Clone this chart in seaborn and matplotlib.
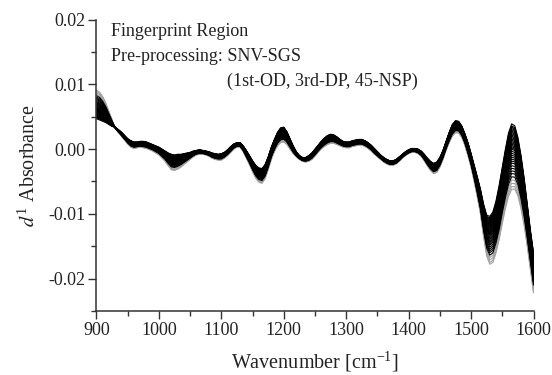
import numpy as np
import pandas as pd
import matplotlib
matplotlib.use("Agg")
import matplotlib.pyplot as plt
import seaborn as sns
from matplotlib.ticker import MultipleLocator

# ---- data ----
wavenumber = list(range(900, 1601, 5))

# edge of the band where most spectra lie (d1 absorbance)
main_edge = [
    0.0047, 0.0045, 0.0043, 0.0041, 0.0038, 0.0035, 0.0034, 0.0030, 0.0026, 0.0021,
    0.0016, 0.0013, 0.0011, 0.0011, 0.0012, 0.0012, 0.0011, 0.0009, 0.0007, 0.0005,
    0.0003, 0.0000, -0.0003, -0.0006, -0.0008, -0.0009, -0.0008, -0.0008, -0.0007, -0.0006,
    -0.0005, -0.0003, -0.0002, -0.0001, -0.0002, -0.0003, -0.0004, -0.0006, -0.0007, -0.0008,
    -0.0007, -0.0005, -0.0001, 0.0004, 0.0008, 0.0010, 0.0010, 0.0005, -0.0002, -0.0010,
    -0.0018, -0.0025, -0.0029, -0.0030, -0.0024, -0.0012, 0.0003, 0.0015, 0.0026, 0.0033,
    0.0034, 0.0027, 0.0016, 0.0005, -0.0004, -0.0010, -0.0013, -0.0013, -0.0010, -0.0006,
    0.0000, 0.0006, 0.0012, 0.0017, 0.0021, 0.0023, 0.0022, 0.0019, 0.0015, 0.0012,
    0.0011, 0.0011, 0.0013, 0.0014, 0.0015, 0.0015, 0.0013, 0.0010, 0.0006, 0.0001,
    -0.0004, -0.0009, -0.0013, -0.0016, -0.0018, -0.0018, -0.0016, -0.0012, -0.0008, -0.0004,
    -0.0001, 0.0001, 0.0001, 0.0000, -0.0003, -0.0008, -0.0014, -0.0019, -0.0022, -0.0020,
    -0.0013, -0.0002, 0.0012, 0.0026, 0.0038, 0.0044, 0.0043, 0.0036, 0.0024, 0.0010,
    -0.0007, -0.0025, -0.0043, -0.0062, -0.0085, -0.0102, -0.0104, -0.0097, -0.0080, -0.0056,
    -0.0028, 0.0000, 0.0025, 0.0039, 0.0036, 0.0018, -0.0010, -0.0045, -0.0085, -0.0125,
    -0.0160,
]
# opposite edge of the band, reached by the few outlying spectra
outlier_edge = [
    0.0091, 0.0088, 0.0081, 0.0071, 0.0058, 0.0045, 0.0032, 0.0026, 0.0020, 0.0014,
    0.0008, 0.0003, 0.0001, 0.0002, 0.0003, 0.0002, 0.0001, -0.0001, -0.0003, -0.0006,
    -0.0009, -0.0014, -0.0019, -0.0026, -0.0032, -0.0033, -0.0031, -0.0028, -0.0024, -0.0020,
    -0.0016, -0.0012, -0.0009, -0.0008, -0.0008, -0.0009, -0.0011, -0.0014, -0.0016, -0.0017,
    -0.0017, -0.0014, -0.0010, -0.0005, 0.0000, 0.0003, 0.0003, -0.0004, -0.0014, -0.0024,
    -0.0035, -0.0045, -0.0051, -0.0053, -0.0046, -0.0032, -0.0016, -0.0004, 0.0005, 0.0010,
    0.0011, 0.0007, 0.0000, -0.0007, -0.0012, -0.0016, -0.0019, -0.0020, -0.0019, -0.0016,
    -0.0011, -0.0005, 0.0000, 0.0004, 0.0007, 0.0009, 0.0009, 0.0007, 0.0005, 0.0003,
    0.0002, 0.0002, 0.0004, 0.0005, 0.0006, 0.0006, 0.0004, 0.0001, -0.0003, -0.0008,
    -0.0012, -0.0016, -0.0020, -0.0023, -0.0025, -0.0025, -0.0023, -0.0019, -0.0014, -0.0010,
    -0.0007, -0.0005, -0.0005, -0.0007, -0.0011, -0.0018, -0.0026, -0.0033, -0.0038, -0.0036,
    -0.0028, -0.0016, -0.0002, 0.0010, 0.0020, 0.0025, 0.0025, 0.0018, 0.0006, -0.0010,
    -0.0028, -0.0050, -0.0074, -0.0100, -0.0135, -0.0165, -0.0178, -0.0175, -0.0160, -0.0140,
    -0.0115, -0.0092, -0.0073, -0.0062, -0.0062, -0.0072, -0.0092, -0.0118, -0.0150, -0.0186,
    -0.0222,
]
# position of each sample spectrum between the two edges (0 = outlier edge, 1 = main edge)
band_position = [0.00, 0.04, 0.09, 0.14, 0.19, 0.24, 0.28, 0.32, 0.36, 0.40,
                 0.43, 0.46, 0.49, 0.52, 0.55, 0.58, 0.61, 0.63, 0.65, 0.67,
                 0.69, 0.71, 0.73, 0.75, 0.77, 0.79, 0.81, 0.83, 0.85, 0.87,
                 0.89, 0.91, 0.93, 0.95, 0.97, 1.00]
gray_samples = [0, 1, 2, 3]

x_ticks = [900, 1000, 1100, 1200, 1300, 1400, 1500, 1600]
y_ticks = [-0.02, -0.01, 0.00, 0.01, 0.02]

# ---- long-format table ----
out_e = np.array(outlier_edge)
main_e = np.array(main_edge)
rows = []
for i, p in enumerate(band_position):
    vals = out_e + p * (main_e - out_e)
    for w, v in zip(wavenumber, vals):
        rows.append((w, v, i))
df = pd.DataFrame(rows, columns=["wn", "absorbance", "sample"])

sns.set_theme(style="ticks")
plt.rcParams["font.family"] = ["Liberation Serif", "DejaVu Serif"]
plt.rcParams["mathtext.fontset"] = "stix"

fig = plt.figure(figsize=(5.52, 3.75), dpi=100)
ax = fig.add_axes([0.1748, 0.171, 0.7917, 0.7765])

palette = {i: ("#a0a0a0" if i in gray_samples else "#000000") for i in range(len(band_position))}
gray_df = df[df["sample"].isin(gray_samples)]
black_df = df[~df["sample"].isin(gray_samples)]
sns.lineplot(data=gray_df, x="wn", y="absorbance", hue="sample", palette=palette,
             legend=False, estimator=None, lw=0.8, ax=ax)
sns.lineplot(data=black_df, x="wn", y="absorbance", hue="sample", palette=palette,
             legend=False, estimator=None, lw=0.8, ax=ax)

ax.set_xlim(900, 1600)
ax.set_ylim(-0.025, 0.02)
ax.set_xticks(x_ticks)
ax.set_yticks(y_ticks)
ax.set_yticklabels([f"{t:.2f}" for t in y_ticks])
ax.xaxis.set_minor_locator(MultipleLocator(50))
ax.yaxis.set_minor_locator(MultipleLocator(0.005))
for s in ["top", "right"]:
    ax.spines[s].set_visible(False)
for s in ["left", "bottom"]:
    ax.spines[s].set_color("#333333")
    ax.spines[s].set_linewidth(1.1)
ax.tick_params(which="major", direction="out", length=6, width=1.0, color="#333333",
               labelsize=13, pad=2, labelcolor="#222222")
ax.tick_params(which="minor", direction="out", length=3.5, width=1.0, color="#333333")

ax.set_xlabel(r"Wavenumber [cm$^{\mathregular{-1}}$]", fontsize=14.5, color="#222222", labelpad=8)
ax.set_ylabel(r"$d^{\mathregular{1}}$ Absorbance", fontsize=14.5, color="#222222", labelpad=6)

ax.text(0.033, 0.959, "Fingerprint Region", transform=ax.transAxes, fontsize=13,
        va="center", ha="left", color="#222222")
ax.text(0.033, 0.873, "Pre-processing: SNV-SGS", transform=ax.transAxes, fontsize=13,
        va="center", ha="left", color="#222222")
ax.text(0.299, 0.787, "(1st-OD, 3rd-DP, 45-NSP)", transform=ax.transAxes, fontsize=13,
        va="center", ha="left", color="#222222")

fig.savefig("out.png", dpi=100)
